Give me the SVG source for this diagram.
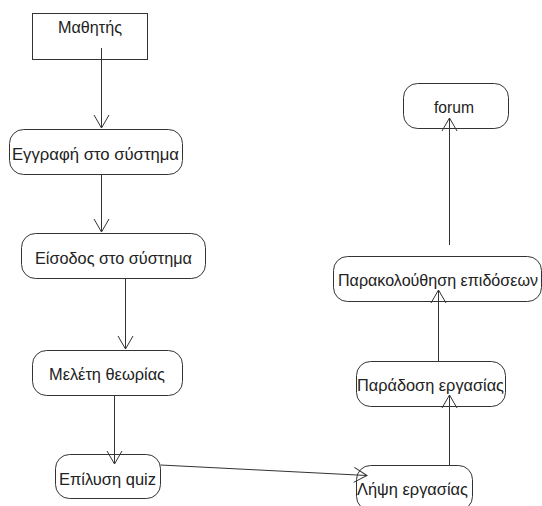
<svg xmlns="http://www.w3.org/2000/svg" width="542" height="506" viewBox="0 0 542 506">
  <defs>
    <style>
      .node rect { fill: #ffffff; stroke: #333333; stroke-width: 1; }
      .node text { font-family: "Liberation Sans", Arial, sans-serif; font-size: 16px; fill: #222222; text-anchor: middle; }
      .edges line { stroke: #333333; stroke-width: 1; fill: none; marker-end: url(#arr); }
    </style>
    <marker id="arr" viewBox="-15 -10 17 20" refX="0" refY="0" markerWidth="17" markerHeight="20" markerUnits="userSpaceOnUse" orient="auto">
      <path d="M-13,-7.5 L0,0 L-13,7.5" fill="none" stroke="#333333" stroke-width="1"/>
    </marker>
  </defs>
  <rect width="542" height="506" fill="#ffffff"/>

  <g id="n-mathitis" class="node">
    <rect x="32.5" y="13.5" width="115" height="46"/>
    <text x="90" y="33" textLength="64" lengthAdjust="spacingAndGlyphs">Μαθητής</text>
  </g>
  <g id="n-eggrafi" class="node">
    <rect x="9.5" y="129.5" width="173" height="45" rx="14" ry="14"/>
    <text x="95.5" y="160" textLength="167" lengthAdjust="spacingAndGlyphs">Εγγραφή στο σύστημα</text>
  </g>
  <g id="n-eisodos" class="node">
    <rect x="21.5" y="233.5" width="184" height="45" rx="14" ry="14"/>
    <text x="113.5" y="264" textLength="157" lengthAdjust="spacingAndGlyphs">Είσοδος στο σύστημα</text>
  </g>
  <g id="n-meleti" class="node">
    <rect x="32.5" y="350.5" width="150" height="45" rx="14" ry="14"/>
    <text x="107" y="380" textLength="116" lengthAdjust="spacingAndGlyphs">Μελέτη θεωρίας</text>
  </g>
  <g id="n-quiz" class="node">
    <rect x="55.5" y="454.5" width="105" height="44" rx="14" ry="14"/>
    <text x="107.5" y="485" textLength="97" lengthAdjust="spacingAndGlyphs">Επίλυση quiz</text>
  </g>
  <g id="n-lipsi" class="node">
    <rect x="356.5" y="465.5" width="116" height="45" rx="14" ry="14"/>
    <text x="412.5" y="495" textLength="111" lengthAdjust="spacingAndGlyphs">Λήψη εργασίας</text>
  </g>
  <g id="n-paradosi" class="node">
    <rect x="356.5" y="361.5" width="149" height="45" rx="14" ry="14"/>
    <text x="430.5" y="391" textLength="147" lengthAdjust="spacingAndGlyphs">Παράδοση εργασίας</text>
  </g>
  <g id="n-parakolouthisi" class="node">
    <rect x="333.5" y="256.5" width="208" height="45" rx="14" ry="14"/>
    <text x="438" y="286" textLength="200" lengthAdjust="spacingAndGlyphs">Παρακολούθηση επιδόσεων</text>
  </g>
  <g id="n-forum" class="node">
    <rect x="403.5" y="83.5" width="105" height="45" rx="14" ry="14"/>
    <text x="454" y="113" textLength="40" lengthAdjust="spacingAndGlyphs">forum</text>
  </g>

  <g id="edges" class="edges">
    <line x1="101.5" y1="48" x2="101.5" y2="128"/>
    <line x1="101.5" y1="174.5" x2="101.5" y2="232"/>
    <line x1="125.5" y1="278.5" x2="125.5" y2="349"/>
    <line x1="114.5" y1="395.5" x2="114.5" y2="464"/>
    <line x1="160.5" y1="465" x2="367" y2="475.5"/>
    <line x1="449.5" y1="465.5" x2="449.5" y2="395"/>
    <line x1="438.5" y1="361.5" x2="438.5" y2="290"/>
    <line x1="449.5" y1="245" x2="449.5" y2="118"/>
  </g>
</svg>
